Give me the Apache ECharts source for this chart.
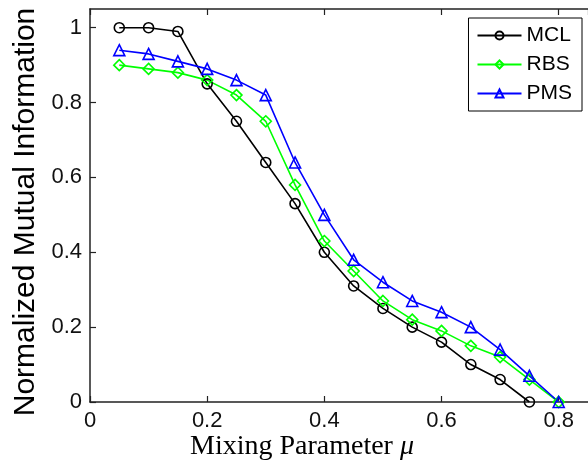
<!DOCTYPE html>
<html>
<head>
<meta charset="utf-8">
<script src="https://cdn.jsdelivr.net/npm/echarts@6/dist/echarts.min.js"></script>
<style>html,body{margin:0;padding:0;background:#fff}#c{width:588px;height:465px}</style>
</head>
<body>
<div id="c"></div>
<script>
const xMCL = [0.05,0.1,0.15,0.2,0.25,0.3,0.35,0.4,0.45,0.5,0.55,0.6,0.65,0.7,0.75];
const yMCL = [1.0,1.0,0.99,0.85,0.75,0.64,0.53,0.40,0.31,0.25,0.20,0.16,0.10,0.06,0.0];
const xRBS = [0.05,0.1,0.15,0.2,0.25,0.3,0.35,0.4,0.45,0.5,0.55,0.6,0.65,0.7,0.75,0.8];
const yRBS = [0.90,0.89,0.88,0.86,0.82,0.75,0.58,0.43,0.35,0.27,0.22,0.19,0.15,0.12,0.06,0.0];
const xPMS = [0.05,0.1,0.15,0.2,0.25,0.3,0.35,0.4,0.45,0.5,0.55,0.6,0.65,0.7,0.75,0.8];
const yPMS = [0.94,0.93,0.91,0.89,0.86,0.82,0.64,0.50,0.38,0.32,0.27,0.24,0.20,0.14,0.07,0.0];
const seriesNames = ['MCL','RBS','PMS'];
const xTickLabels = ['0','0.2','0.4','0.6','0.8'];
const yTickLabels = ['0','0.2','0.4','0.6','0.8','1'];
const xTitle = 'Mixing Parameter ';
const xTitleSymbol = 'μ';
const yTitle = 'Normalized Mutual Information';

function pairs(xs, ys){ return xs.map((x,i)=>[x, ys[i]]); }
function fmt(list){
  return function(v){
    const r = Math.round(v*10)/10;
    if (Math.abs(r - v) > 1e-6) return '';
    const s = r === 0 ? '0' : (r === 1 ? '1' : r.toFixed(1));
    return list.indexOf(s) >= 0 ? s : '';
  };
}
const axisLine = {show:true, lineStyle:{color:'#222', width:1.5}};
const tick = {show:true, inside:true, length:6, lineStyle:{color:'#222', width:1.2}};
const labelFont = {fontFamily:'Liberation Sans, Arial, sans-serif', fontSize:22, color:'#111'};

function mk(name, data, color, symbol, size){
  return {
    name, type:'line', data, symbol, symbolSize:size, showSymbol:true,
    lineStyle:{color, width:1.6},
    itemStyle:{color:'rgba(255,255,255,0)', borderColor:color, borderWidth:1.6},
    emphasis:{disabled:true}, animation:false
  };
}

const chart = echarts.init(document.getElementById('c'));
chart.setOption({
  backgroundColor:'#fff',
  animation:false,
  grid:{left:90, right:-1, top:9, bottom:63, containLabel:false},
  xAxis:[{
    type:'value', min:0, max:0.85, interval:0.2, position:'bottom',
    axisLine, axisTick:tick, splitLine:{show:false},
    axisLabel:Object.assign({margin:8, formatter:fmt(xTickLabels), showMaxLabel:false}, labelFont)
  },{
    type:'value', min:0, max:0.85, interval:0.2, position:'top',
    axisLine, axisTick:tick, splitLine:{show:false}, axisLabel:{show:false}
  }],
  yAxis:[{
    type:'value', min:0, max:1.05, interval:0.2,
    axisLine, axisTick:tick, splitLine:{show:false},
    axisLabel:Object.assign({margin:8, formatter:fmt(yTickLabels), showMaxLabel:false}, labelFont)
  }],
  legend:{
    orient:'vertical', right:6, top:18,
    data:seriesNames,
    itemWidth:44, itemHeight:10, itemGap:8,
    padding:[7,10,7,8],
    borderColor:'#000', borderWidth:1, backgroundColor:'#fff',
    textStyle:{fontFamily:'Liberation Sans, Arial, sans-serif', fontSize:21, color:'#000'},
    selectedMode:false
  },
  graphic:[{
    type:'text', x:302, y:447,
    style:{
      text:xTitle + '{it|' + xTitleSymbol + '}',
      rich:{it:{fontStyle:'italic', fontFamily:'Liberation Serif, serif', fontSize:28, fill:'#000'}},
      font:'28px "Liberation Serif", serif', fill:'#000',
      align:'center', verticalAlign:'middle'
    }
  },{
    type:'text', x:26, y:212, rotation:Math.PI/2,
    style:{
      text:yTitle,
      font:'30px "Liberation Sans", Arial, sans-serif', fill:'#000',
      align:'center', verticalAlign:'middle'
    }
  }],
  series:[
    mk(seriesNames[0], pairs(xMCL,yMCL), '#000000', 'circle', 10),
    mk(seriesNames[1], pairs(xRBS,yRBS), '#00ff00', 'diamond', 11),
    mk(seriesNames[2], pairs(xPMS,yPMS), '#0000ff', 'triangle', 11)
  ]
});
</script>
</body>
</html>
